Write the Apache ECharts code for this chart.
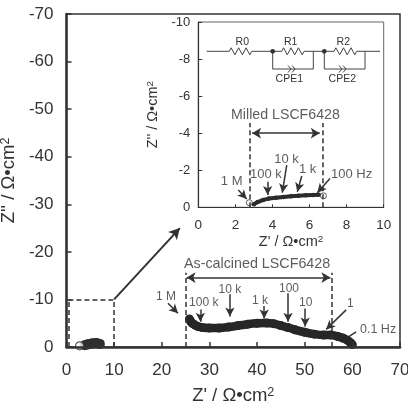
<!DOCTYPE html>
<html>
<head>
<meta charset="utf-8">
<style>html,body{margin:0;padding:0;background:#fff}#chart{width:408px;height:402px}</style>
<script src="https://cdn.jsdelivr.net/npm/echarts@6/dist/echarts.min.js"></script>
</head>
<body>
<div id="chart"></div>
<script>
// Impedance spectra, as [Z', Z''] in ohm cm2
const asCalcined = [[25.8,-5.9],[26.1,-5.3],[26.5,-4.9],[27,-4.6],[27.6,-4.3],[28.5,-4.1],[30,-4],[32,-4],[34,-4.2],[36,-4.5],[38,-4.8],[40,-5],[42,-5.05],[43.5,-4.9],[45,-4.5],[46.5,-4.1],[48,-3.6],[50,-3.1],[52,-2.7],[54,-2.5],[55.5,-2.5],[57,-2.2],[58,-1.9],[59,-1.4],[59.6,-0.9],[60,-0.5]];
const milledMain = [[3.8,-0.35],[4.6,-0.6],[5.4,-0.75],[6.2,-0.85],[7,-0.65]];
const milledMainStart = [[2.75,-0.25]];
const milledInset = [[3.0,-0.17],[3.2,-0.28],[3.5,-0.4],[3.8,-0.47],[4.2,-0.52],[4.6,-0.56],[5,-0.59],[5.4,-0.62],[5.8,-0.65],[6.2,-0.67],[6.5,-0.68]];
const milledInsetEnds = [[2.75,-0.25],[6.75,-0.62]];

// Axis ranges
const mainRange = [0, 70];
const mainDepth = [-70, 0];
const insetRange = [0, 10];
const insetDepth = [-10, 0];

// Frequency labels: [x, y, text, size]
const mainLabels = [[20.9,-10.5,'1 M',12],[28.8,-9.3,'100 k',12],[34.3,-12.1,'10 k',12],[40.6,-9.8,'1 k',12],[46.7,-12.2,'100',12],[50.2,-9.3,'10',12],[59.6,-9,'1',12],[65.4,-3.6,'0.1 Hz',12.5],[40,-17.4,'As-calcined LSCF6428',14.3]];
const mainArrows = [[21.3,-9.2,23.4,-7.1],[28.1,-7.9,28.1,-5.3],[34.3,-11.1,34.3,-6.4],[41.5,-8.6,41.5,-6],[46.5,-11.3,46.5,-5.3],[50.1,-8.1,50.1,-4.3],[58.7,-7.8,54.5,-3.7]];
const insetLabels = [[1.8,-1.38,'1 M',13],[3.65,-1.75,'100 k',13],[4.76,-2.6,'10 k',13],[5.9,-2.05,'1 k',13],[8.27,-1.77,'100 Hz',13],[4.7,-4.95,'Milled LSCF6428',14.2]];
const insetArrows = [[2.16,-0.93,2.61,-0.45],[3.74,-1.38,3.74,-0.66],[4.77,-2.28,4.53,-0.79],[5.58,-1.69,5.34,-0.84],[7.1,-1.56,6.42,-0.79]];

const ink = '#333333';
const face = 'Liberation Sans, Arial, sans-serif';

function axisName(text, size) {
  return {
    name: text + '{s|2}',
    nameLocation: 'middle',
    nameTextStyle: {
      color: ink, fontFamily: face, fontSize: size,
      rich: { s: { fontSize: size * 0.68, fontFamily: face, color: ink, verticalAlign: 'top', padding: [0, 0, size * 0.35, 0] } }
    }
  };
}
function valueAxis(range, step, gridIndex, size, lineWidth, tick, margin) {
  return {
    type: 'value', gridIndex, min: range[0], max: range[1], interval: step,
    splitLine: { show: false }, z: 3,
    axisLine: { onZero: false, lineStyle: { color: ink, width: lineWidth } },
    axisTick: { inside: true, length: tick, lineStyle: { color: ink, width: lineWidth > 2 ? 1.5 : 1 } },
    axisLabel: { color: ink, fontFamily: face, fontSize: size, margin, showMinLabel: true, showMaxLabel: true, hideOverlap: false }
  };
}
function arrowLines(list) {
  return list.map(a => [{ coord: [a[0], a[1]] }, { coord: [a[2], a[3]] }]);
}
function textMarks(name, list, xi) {
  return {
    name, type: 'scatter', xAxisIndex: xi, yAxisIndex: xi, symbolSize: 0, silent: true, z: 6,
    data: list.map(l => ({ value: [l[0], l[1]], label: {
      show: true, position: 'inside', formatter: l[2], color: ink, fontFamily: face, fontSize: l[3]
    } }))
  };
}
function guides(name, xi, segs, style, symbols, symbolSize) {
  return {
    name, type: 'line', xAxisIndex: xi, yAxisIndex: xi, data: [], z: 5, silent: true,
    markLine: {
      silent: true, animation: false, symbol: symbols, symbolSize,
      label: { show: false }, lineStyle: style, emphasis: { disabled: true },
      data: arrowLines(segs)
    }
  };
}

const option = {
  animation: false,
  backgroundColor: '#fff',
  grid: [
    { left: 66.5, top: 14, width: 333.5, height: 333, outerBoundsMode: 'none', containLabel: false, show: true, borderColor: ink, borderWidth: 1.5, backgroundColor: 'transparent' },
    { left: 198.3, top: 22, width: 185.4, height: 185.3, outerBoundsMode: 'none', containLabel: false, show: true, borderColor: '#666', borderWidth: 1, backgroundColor: 'transparent' }
  ],
  xAxis: [
    Object.assign(valueAxis(mainRange, 10, 0, 17, 2.5, 5, 15), { position: 'bottom' }, axisName("Z' / Ω•cm", 18.5), { nameGap: 39 }),
    Object.assign(valueAxis(insetRange, 2, 1, 13.5, 1.2, 3, 11), { position: 'bottom' }, axisName("Z' / Ω•cm", 14.5), { nameGap: 27 })
  ],
  yAxis: [
    Object.assign(valueAxis(mainDepth, 10, 0, 17, 2.5, 5, 13), { inverse: true }, axisName("Z'' / Ω•cm", 18.5), { nameGap: 41, nameRotate: 90 }),
    Object.assign(valueAxis(insetDepth, 2, 1, 13, 1.2, 4, 8), { inverse: true }, axisName("Z'' / Ω•cm", 14.5), { nameGap: 38, nameRotate: 90 })
  ],
  series: [
    { name: 'As-calcined', type: 'line', data: asCalcined, showSymbol: true, symbol: 'circle', symbolSize: 9, clip: false, z: 2, smooth: 0.2,
      lineStyle: { color: '#262626', width: 8.5 }, itemStyle: { color: '#262626' } },
    { name: 'Milled', type: 'line', data: milledMain, showSymbol: true, symbol: 'circle', symbolSize: 10, clip: false, z: 2, smooth: 0.2,
      lineStyle: { color: '#2e2e2e', width: 10 }, itemStyle: { color: '#2e2e2e' } },
    { name: 'Milled start', type: 'scatter', data: milledMainStart, symbol: 'circle', symbolSize: 8, clip: false, z: 2,
      itemStyle: { color: '#fff', borderColor: ink, borderWidth: 1.2 } },
    { name: 'Milled inset', type: 'line', xAxisIndex: 1, yAxisIndex: 1, data: milledInset, showSymbol: true, symbol: 'circle', symbolSize: 4.5, clip: false, z: 2,
      lineStyle: { color: '#2b2b2b', width: 4 }, itemStyle: { color: '#2b2b2b' } },
    { name: 'Milled inset ends', type: 'scatter', xAxisIndex: 1, yAxisIndex: 1, data: milledInsetEnds, symbol: 'circle', symbolSize: 6, clip: false, z: 2,
      itemStyle: { color: '#fff', borderColor: ink, borderWidth: 1 } },

    guides('Main span', 0, [[25,0,25,-15.6],[55.6,0,55.6,-15.6]], { color: ink, width: 1.5, type: [5, 3] }, ['none', 'none'], 0),
    guides('Main span arrow', 0, [[25.2,-14.6,55.4,-14.6]], { color: ink, width: 1.5, type: 'solid' }, ['arrow', 'arrow'], [8, 9]),
    guides('Zoom box', 0, [[0.4,-10,10,-10],[0.4,0,0.4,-10],[10,0,10,-10]], { color: ink, width: 1.5, type: [5, 3] }, ['none', 'none'], 0),
    guides('Zoom pointer', 0, [[10,-10,23.8,-25]], { color: ink, width: 2, type: 'solid' }, ['none', 'arrow'], [9, 11]),
    guides('Main arrows', 0, mainArrows, { color: ink, width: 1.5, type: 'solid' }, ['none', 'arrow'], [7, 9]),
    guides('Tail', 0, [[60.8,-3.2,59.4,-2.3]], { color: ink, width: 1.5, type: 'solid' }, ['none', 'none'], 0),
    textMarks('Main labels', mainLabels, 0),

    guides('Inset span', 1, [[2.75,0,2.75,-4.55],[6.69,0,6.69,-4.55]], { color: ink, width: 1.5, type: [5, 3] }, ['none', 'none'], 0),
    guides('Inset span arrow', 1, [[2.9,-4,6.55,-4]], { color: ink, width: 1.5, type: 'solid' }, ['arrow', 'arrow'], [8, 9]),
    guides('Inset arrows', 1, insetArrows, { color: ink, width: 1.5, type: 'solid' }, ['none', 'arrow'], [7, 9]),
    textMarks('Inset labels', insetLabels, 1)
  ],
  graphic: { elements: circuit() }
};

// Equivalent circuit schematic above the inset spectrum
function circuit() {
  const y = 51.3, low = 69, stroke = { stroke: '#444', lineWidth: 1, fill: null };
  const out = [];
  const line = pts => out.push({ type: 'polyline', silent: true, shape: { points: pts }, style: stroke, z: 10 });
  const zig = (a, b) => {
    const pts = [];
    const n = 6, step = (b - a) / n;
    pts.push([a, y]);
    for (let i = 0; i < n; i++) pts.push([a + step * (i + 0.5), i % 2 ? y + 3.5 : y - 3.5]);
    pts.push([b, y]);
    return pts;
  };
  const label = (x, ty, t) => out.push({ type: 'text', silent: true, z: 10, x, y: ty,
    style: { text: t, fill: ink, font: '10.5px ' + face, align: 'center', verticalAlign: 'middle' } });
  const chevrons = x => {
    line([[x, low - 3.5], [x + 3, low], [x, low + 3.5]]);
    line([[x + 4, low - 3.5], [x + 7, low], [x + 4, low + 3.5]]);
  };
  const node = x => out.push({ type: 'circle', silent: true, z: 10, shape: { cx: x, cy: y, r: 2.4 }, style: { fill: '#333' } });

  line([[206.7, y], [229.3, y]]); line(zig(229.3, 251.7)); line([[251.7, y], [281.7, y]]);
  line(zig(281.7, 304)); line([[304, y], [334, y]]); line(zig(334, 356.7)); line([[356.7, y], [380, y]]);
  line([[272.7, y], [272.7, low], [313.3, low], [313.3, y]]);
  line([[324.3, y], [324.3, low], [365, low], [365, y]]);
  chevrons(288); chevrons(339);
  node(272.7); node(324.3);
  label(242.3, 41.7, 'R0'); label(290.7, 41.7, 'R1'); label(343.3, 41.7, 'R2');
  label(289.3, 79.3, 'CPE1'); label(342.3, 79.3, 'CPE2');
  return out;
}

echarts.init(document.getElementById('chart'), null, { renderer: 'canvas' }).setOption(option);
</script>
</body>
</html>
